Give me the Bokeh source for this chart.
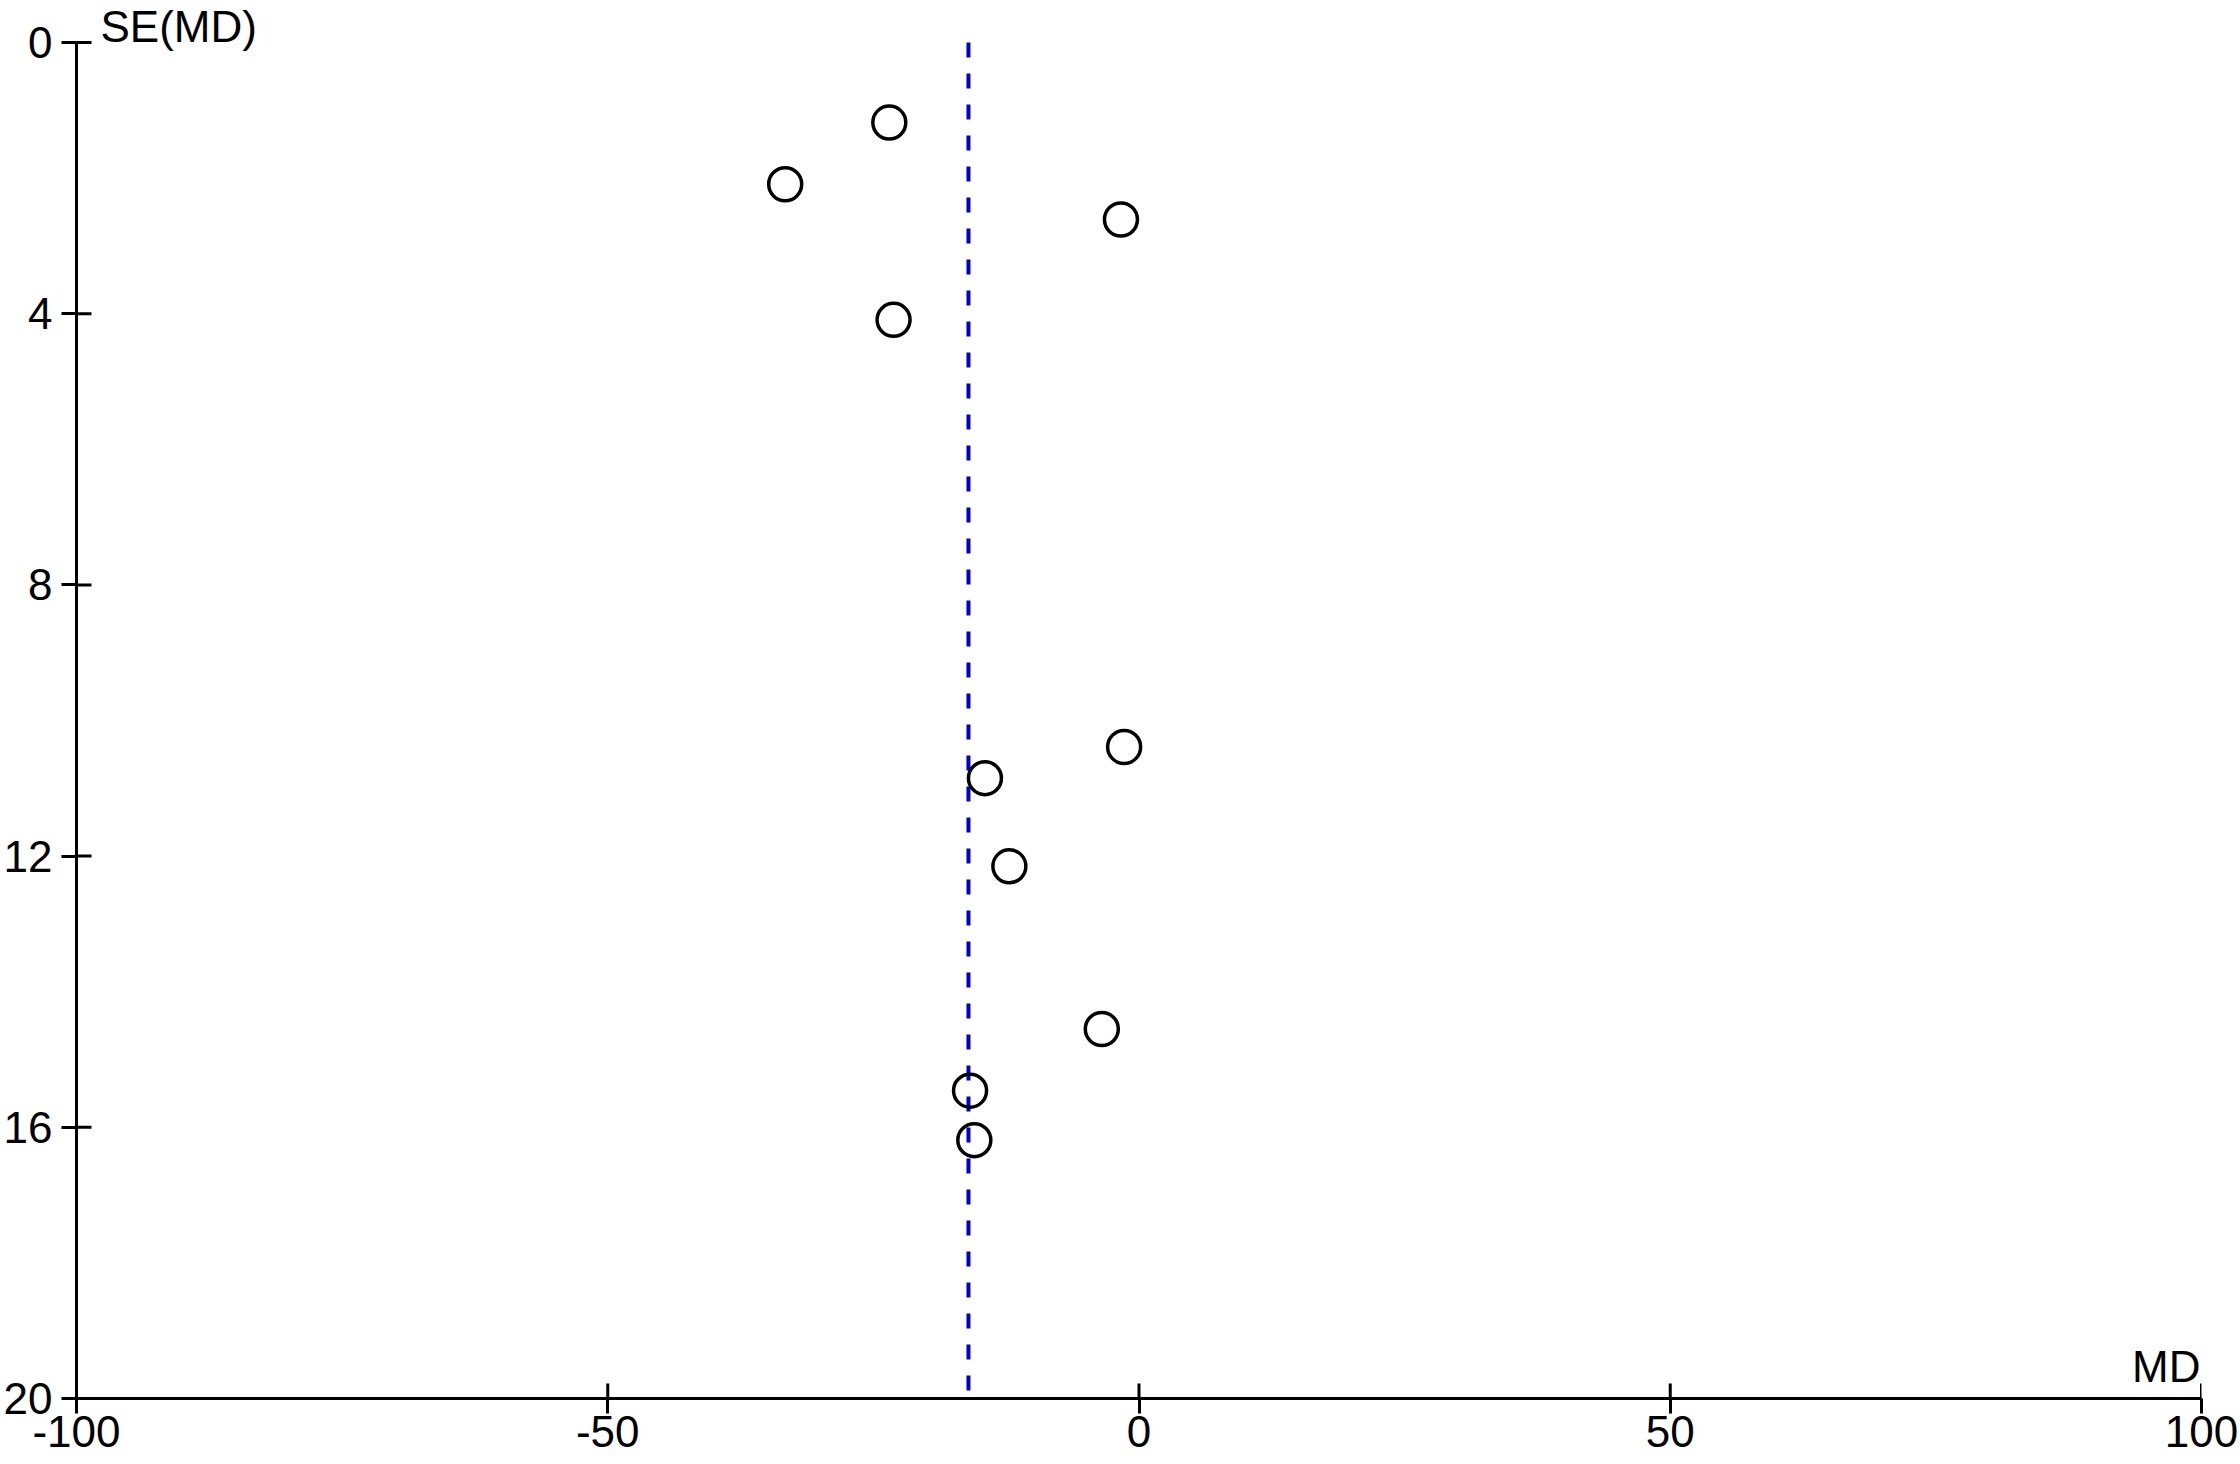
import math
from bokeh.plotting import figure
from bokeh.models import Range1d, FixedTicker, Label, ColumnDataSource
from bokeh.embed import file_html
from bokeh.resources import INLINE

# Funnel plot data
md = [-23.5, -33.3, -1.7, -23.1, -1.4, -14.5, -12.2, -3.5, -15.9, -15.5]
se_md = [1.18, 2.09, 2.61, 4.09, 10.39, 10.85, 12.15, 14.55, 15.46, 16.19]
pooled_md = -16.05
pooled_se_span = [0, 20]
x_ticks = [-100, -50, 0, 50, 100]
y_ticks = [0, 4, 8, 12, 16, 20]

FONT = "Liberation Sans"
FS = "44px"

X_MIN, X_MAX = -100, 100
Y_MIN, Y_MAX = 0, 20
# a little headroom above SE=0 so the "SE(MD)" caption sits inside the frame
y_range = Range1d(Y_MAX, Y_MIN - 0.62)

p = figure(width=2240, height=1464, output_backend="svg", toolbar_location=None,
           x_range=Range1d(X_MIN, X_MAX), y_range=y_range,
           min_border_left=74, min_border_right=39, min_border_top=0, min_border_bottom=66)
p.outline_line_color = None
p.xgrid.visible = False
p.ygrid.visible = False
p.background_fill_color = "white"
p.border_fill_color = "white"

for ax in (p.xaxis[0], p.yaxis[0]):
    ax.axis_line_width = 3
    ax.axis_line_color = "black"
    ax.major_tick_line_width = 3
    ax.major_tick_line_color = "black"
    ax.major_tick_in = 0
    ax.major_tick_out = 15
    ax.minor_tick_line_color = None
    ax.major_label_text_font = FONT
    ax.major_label_text_font_size = FS
    ax.major_label_text_color = "black"

p.yaxis.bounds = (Y_MIN, Y_MAX)
p.xaxis.ticker = FixedTicker(ticks=x_ticks)
p.yaxis.ticker = FixedTicker(ticks=y_ticks)
p.xaxis.major_label_overrides = {t: str(t) for t in x_ticks}
p.yaxis.major_label_overrides = {t: str(t) for t in y_ticks}
p.xaxis.major_label_standoff = 2
p.yaxis.major_label_standoff = 9

# inward halves of the crossing tick marks
p.scatter(x=[X_MIN] * len(y_ticks), y=y_ticks, marker="dash", size=30,
          line_color="black", line_width=3)
p.scatter(x=x_ticks, y=[Y_MAX] * len(x_ticks), marker="dash", size=30,
          angle=math.pi / 2, line_color="black", line_width=3)

# pooled estimate dashed line
p.line(x=[pooled_md, pooled_md], y=pooled_se_span, line_color="#0000CC",
       line_width=4, line_dash="15 16")

src = ColumnDataSource(dict(md=md, se=se_md))
p.scatter("md", "se", source=src, marker="circle", size=33,
          fill_color=None, line_color="black", line_width=3.5)

p.add_layout(Label(x=X_MIN, y=Y_MIN, text="SE(MD)", x_offset=24, y_offset=16,
                   text_font=FONT, text_font_size=FS, text_color="black",
                   text_align="left", text_baseline="alphabetic"))
p.add_layout(Label(x=X_MAX, y=Y_MAX, text="MD", x_offset=-1, y_offset=32,
                   text_font=FONT, text_font_size=FS, text_color="black",
                   text_align="right", text_baseline="alphabetic"))

open("out.html", "w").write(file_html(p, INLINE))
